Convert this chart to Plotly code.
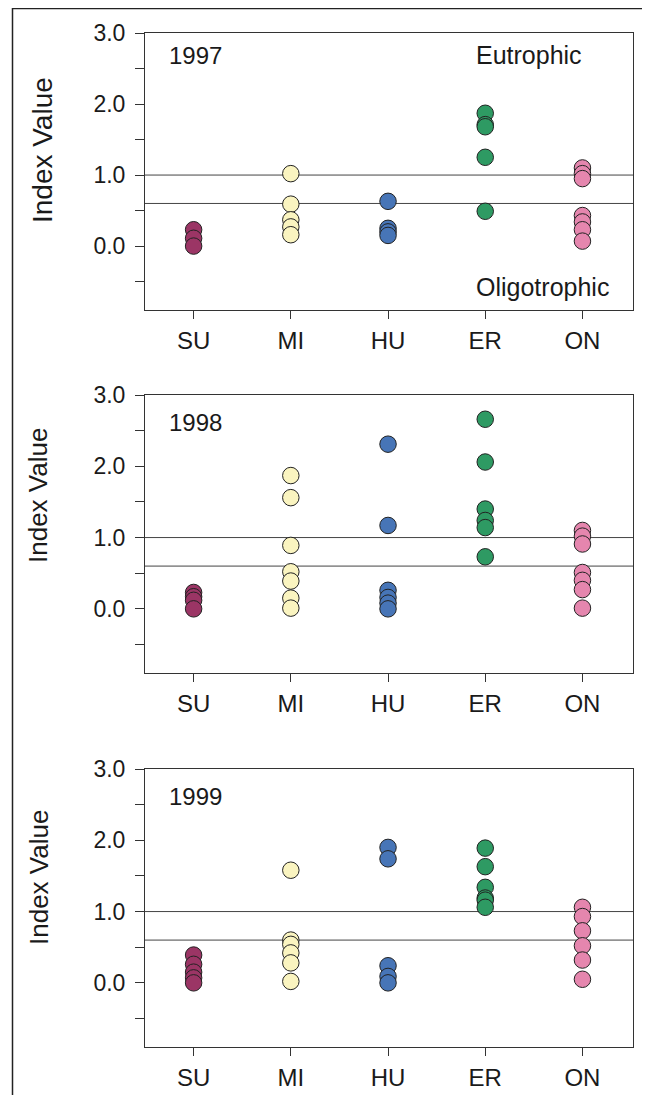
import plotly.graph_objects as go

# ---- data ----
lakes = ["SU", "MI", "HU", "ER", "ON"]
years = ["1997", "1998", "1999"]
lake_colors = ["#9B3565", "#FAF4C0", "#4775B7", "#2E9A63", "#E586AE"]

su_1997 = [0.23, 0.11, 0.0]
mi_1997 = [1.02, 0.59, 0.37, 0.27, 0.16]
hu_1997 = [0.63, 0.25, 0.20, 0.15]
er_1997 = [1.87, 1.71, 1.68, 1.25, 0.49]
on_1997 = [1.10, 1.02, 0.95, 0.43, 0.34, 0.23, 0.07]

su_1998 = [0.23, 0.17, 0.12, 0.0]
mi_1998 = [1.87, 1.56, 0.89, 0.52, 0.39, 0.15, 0.01]
hu_1998 = [2.31, 1.17, 0.26, 0.16, 0.08, 0.0]
er_1998 = [2.66, 2.06, 1.40, 1.24, 1.14, 0.73]
on_1998 = [1.10, 1.02, 0.91, 0.51, 0.40, 0.27, 0.01]

su_1999 = [0.39, 0.26, 0.15, 0.07, 0.0]
mi_1999 = [1.58, 0.60, 0.54, 0.42, 0.28, 0.02]
hu_1999 = [1.90, 1.74, 0.24, 0.09, 0.0]
er_1999 = [1.89, 1.63, 1.34, 1.19, 1.16, 1.06]
on_1999 = [1.06, 0.93, 0.73, 0.52, 0.32, 0.05]

eutrophic_threshold = 1.0
oligotrophic_threshold = 0.6

y_tickvals = [-0.5, 0.0, 0.5, 1.0, 1.5, 2.0, 2.5, 3.0]
y_ticktext = ["", "0.0", "", "1.0", "", "2.0", "", "3.0"]
y_title = "Index Value"

panels = [
    [su_1997, mi_1997, hu_1997, er_1997, on_1997],
    [su_1998, mi_1998, hu_1998, er_1998, on_1998],
    [su_1999, mi_1999, hu_1999, er_1999, on_1999],
]

# ---- layout geometry (page has an 8px body margin; overflow is cropped) ----
OFF = 8
W, H = 650 - OFF, 1095 - OFF
ML = 145 - OFF
MT = 33 - OFF
MR = W - (633 - OFF)
MB = H - (1047 - OFF)
PW = W - ML - MR
PH = H - MT - MB


def px_x(px):
    return (px - OFF - ML) / PW


def px_y(py):
    return (H - MB - (py - OFF)) / PH


domains = [
    [px_y(310), px_y(33)],
    [px_y(673), px_y(395)],
    [px_y(1047), px_y(769)],
]
year_ypos = [0.92, 0.90, 0.90]
title_pos = [(42, 150, 28), (38, 496, 26), (39, 878, 26)]

FONT = "Liberation Sans, Arial, sans-serif"
TXT = "#1a1a1a"
LINE = "#333333"

fig = go.Figure()
layout = dict(
    template="none",
    width=W, height=H,
    margin=dict(l=ML, r=MR, t=MT, b=MB, autoexpand=False),
    paper_bgcolor="white", plot_bgcolor="white",
    showlegend=False,
    font=dict(family=FONT, color=TXT),
    annotations=[], shapes=[],
)

for p, series in enumerate(panels):
    sfx = "" if p == 0 else str(p + 1)
    xa, ya = "x" + sfx, "y" + sfx
    for i, vals in enumerate(series):
        fig.add_trace(go.Scatter(
            x=[i + 1] * len(vals), y=vals, mode="markers",
            xaxis=xa, yaxis=ya, name=lakes[i], hoverinfo="skip",
            marker=dict(size=16.5, color=lake_colors[i],
                        line=dict(color="#222222", width=1)),
        ))
    layout["xaxis" + sfx] = dict(
        domain=[0, 1], anchor=ya, range=[0.5, 5.52], automargin=False,
        tickvals=[1, 2, 3, 4, 5], ticktext=lakes,
        ticks="outside", ticklen=8, tickwidth=1, tickcolor=LINE,
        showline=True, linecolor=LINE, linewidth=1, mirror=True,
        showgrid=False, zeroline=False, ticklabelstandoff=1,
        tickfont=dict(size=24, color=TXT, family=FONT),
        fixedrange=True,
    )
    layout["yaxis" + sfx] = dict(
        domain=domains[p], anchor=xa, range=[-0.9, 3.0], automargin=False,
        tickvals=y_tickvals, ticktext=y_ticktext,
        ticks="outside", ticklen=9, tickwidth=1, tickcolor=LINE,
        showline=True, linecolor=LINE, linewidth=1, mirror=True,
        showgrid=False, zeroline=False, ticklabelstandoff=5,
        tickfont=dict(size=23, color=TXT, family=FONT),
        fixedrange=True,
    )
    for thr in (eutrophic_threshold, oligotrophic_threshold):
        layout["shapes"].append(dict(
            type="line", xref=xa + " domain", yref=ya, x0=0, x1=1,
            y0=thr, y1=thr, line=dict(color="#444444", width=1), layer="below",
        ))
    layout["annotations"].append(dict(
        text=years[p], xref=xa + " domain", yref=ya + " domain",
        x=0.045, y=year_ypos[p], xanchor="left", yanchor="middle",
        showarrow=False, font=dict(size=24, color=TXT, family=FONT),
    ))
    tx, ty, tfs = title_pos[p]
    layout["annotations"].append(dict(
        text=y_title, xref="paper", yref="paper",
        x=px_x(tx), y=px_y(ty), xanchor="center", yanchor="middle",
        textangle=-90, showarrow=False,
        font=dict(size=tfs, color=TXT, family=FONT),
    ))
    if p == 0:
        layout["annotations"].append(dict(
            text="Eutrophic", xref="x domain", yref="y domain",
            x=0.675, y=0.92, xanchor="left", yanchor="middle",
            showarrow=False, font=dict(size=25, color=TXT, family=FONT),
        ))
        layout["annotations"].append(dict(
            text="Oligotrophic", xref="x domain", yref="y domain",
            x=0.675, y=0.083, xanchor="left", yanchor="middle",
            showarrow=False, font=dict(size=25, color=TXT, family=FONT),
        ))

# outer frame (left and top edges of the page border)
layout["shapes"].append(dict(
    type="path", xref="paper", yref="paper",
    path=f"M {px_x(12.5)},{px_y(1110)} L {px_x(12.5)},{px_y(8.5)} L {px_x(660)},{px_y(8.5)}",
    line=dict(color="#222222", width=1.5),
))
layout["shapes"].append(dict(
    type="line", xref="paper", yref="paper",
    x0=px_x(643), x1=px_x(643), y0=px_y(10), y1=px_y(1110),
    line=dict(color="#dddddd", width=1),
))

fig.update_layout(**layout)
fig.write_html("out.html")
